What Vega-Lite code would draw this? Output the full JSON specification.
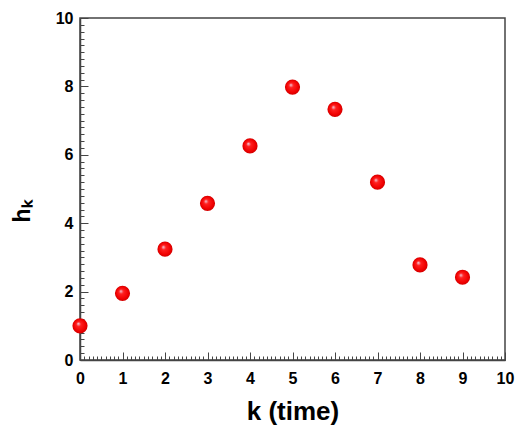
{
  "$schema": "https://vega.github.io/schema/vega-lite/v6.json",
  "width": 425,
  "height": 342,
  "autosize": "none",
  "padding": {"left": 80, "top": 18, "right": 11, "bottom": 67},
  "background": "white",
  "config": {
    "view": {"stroke": "#444444", "strokeWidth": 1.5},
    "axis": {"grid": false, "domainColor": "#444444", "domainWidth": 1.5, "tickColor": "#444444", "tickWidth": 1, "labelFlush": false,
      "labelFont": "Liberation Sans", "labelFontWeight": "bold", "labelFontSize": 16, "labelColor": "#000000",
      "titleFont": "Liberation Sans", "titleFontWeight": "bold", "titleColor": "#000000"}
  },
  "data": {"values": [
    {"k": 0, "h": 1.0},
    {"k": 1, "h": 1.95},
    {"k": 2, "h": 3.24},
    {"k": 3, "h": 4.58},
    {"k": 4, "h": 6.26},
    {"k": 5, "h": 7.98},
    {"k": 6, "h": 7.33},
    {"k": 7, "h": 5.2},
    {"k": 8, "h": 2.78},
    {"k": 9, "h": 2.42}
  ]},
  "resolve": {"axis": {"x": "independent", "y": "independent"}},
  "layer": [
    {
      "mark": {"type": "point", "shape": "circle", "filled": true, "size": 230, "opacity": 1, "clip": false,
        "color": {"gradient": "radial", "x1": 0.38, "y1": 0.35, "r1": 0, "x2": 0.5, "y2": 0.5, "r2": 0.5,
          "stops": [{"offset": 0, "color": "#eed8e8"}, {"offset": 0.3, "color": "#ff2020"}, {"offset": 0.8, "color": "#f00000"}, {"offset": 1, "color": "#d00000"}]}},
      "encoding": {
        "x": {"field": "k", "type": "quantitative", "scale": {"domain": [0, 10], "nice": false},
          "axis": {"orient": "bottom", "values": [0,1,2,3,4,5,6,7,8,9,10], "tickSize": -8, "labelPadding": 18, "title": "k (time)", "titleFontSize": 26, "titlePadding": 12}},
        "y": {"field": "h", "type": "quantitative", "scale": {"domain": [0, 10], "nice": false},
          "axis": {"orient": "left", "values": [0,2,4,6,8,10], "tickSize": -8, "labelPadding": 15, "title": "hₖ", "titleFontSize": 23, "titlePadding": 21, "titleY": 193}}
      }
    },
    {
      "mark": {"type": "point", "opacity": 0},
      "encoding": {
        "x": {"field": "k", "type": "quantitative", "scale": {"domain": [0, 10], "nice": false},
          "axis": {"orient": "bottom", "tickCount": 100, "tickSize": -4, "labels": false, "domain": false, "title": null}},
        "y": {"field": "h", "type": "quantitative", "scale": {"domain": [0, 10], "nice": false},
          "axis": {"orient": "left", "tickCount": 50, "tickSize": -4, "labels": false, "domain": false, "title": null}}
      }
    }
  ]
}
